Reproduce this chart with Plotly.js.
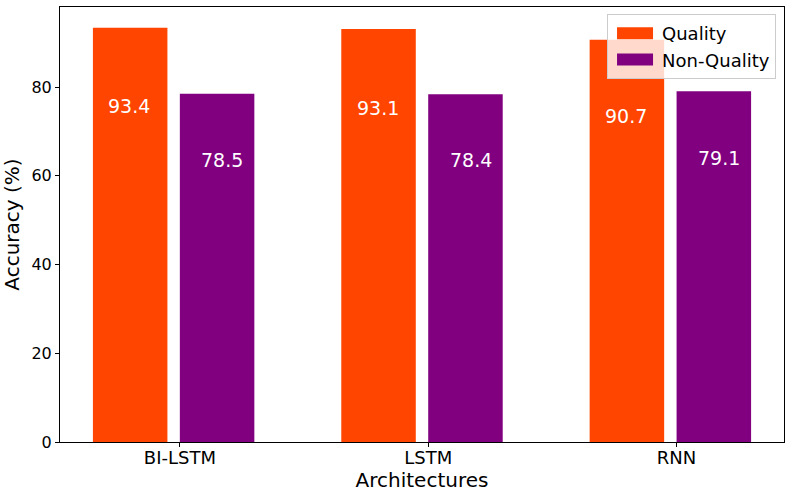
<!DOCTYPE html>
<html>
<head>
<meta charset="utf-8">
<script src="https://cdn.plot.ly/plotly-3.0.1.min.js"></script>
<style>html,body{margin:0;padding:0;background:#fff;}#chart{width:792px;height:497px;}</style>
</head>
<body>
<div id="chart"></div>
<script>
const categories = ["BI-LSTM", "LSTM", "RNN"];
const qualityValues = [93.4, 93.1, 90.7];
const nonQualityValues = [78.5, 78.4, 79.1];
const seriesNames = ["Quality", "Non-Quality"];
const yTickValues = [0, 20, 40, 60, 80];

const xPos = categories.map((c, i) => i);
const font = "DejaVu Sans, sans-serif";

const traces = [
  {
    type: "bar", name: seriesNames[0], x: xPos, y: qualityValues,
    offset: -0.35, width: 0.3, marker: {color: "#FF4500"},
    hoverinfo: "y"
  },
  {
    type: "bar", name: seriesNames[1], x: xPos, y: nonQualityValues,
    offset: 0, width: 0.3, marker: {color: "#800080"},
    hoverinfo: "y"
  }
];

const annotations = [];
qualityValues.forEach((v, i) => annotations.push({
  x: i - 0.296, y: v * 0.81, xref: "x", yref: "y", text: v.toFixed(1),
  showarrow: false, xanchor: "left", yanchor: "middle",
  font: {family: font, size: 19, color: "#ffffff"}
}));
nonQualityValues.forEach((v, i) => annotations.push({
  x: i + 0.078, y: v * 0.81, xref: "x", yref: "y", text: v.toFixed(1),
  showarrow: false, xanchor: "left", yanchor: "middle",
  font: {family: font, size: 19, color: "#ffffff"}
}));

const layout = {
  width: 792, height: 497,
  margin: {l: 60, r: 8, t: 7, b: 55},
  paper_bgcolor: "#fff", plot_bgcolor: "#fff",
  barmode: "overlay",
  font: {family: font, color: "#000"},
  showlegend: true,
  legend: {
    x: 0.989, xanchor: "right", y: 0.984, yanchor: "top",
    bgcolor: "rgba(255,255,255,0.8)", bordercolor: "#cccccc", borderwidth: 1,
    itemwidth: 44, traceorder: "normal",
    font: {family: font, size: 18, color: "#000"}
  },
  xaxis: {
    range: [-0.4825, 2.4325],
    tickvals: xPos, ticktext: categories,
    ticks: "outside", ticklen: 4, tickcolor: "#000", tickwidth: 1,
    ticklabelstandoff: -5,
    showline: true, linecolor: "#000", linewidth: 1, mirror: true,
    showgrid: false, zeroline: false,
    tickfont: {family: font, size: 18, color: "#000"},
    title: {text: "Architectures", font: {family: font, size: 20, color: "#000"}, standoff: 4}
  },
  yaxis: {
    range: [0, 98.07],
    tickvals: yTickValues,
    ticks: "outside", ticklen: 4, tickcolor: "#000", tickwidth: 1,
    showline: true, linecolor: "#000", linewidth: 1, mirror: true,
    showgrid: false, zeroline: false,
    tickfont: {family: font, size: 16, color: "#000"},
    title: {text: "Accuracy (%)", font: {family: font, size: 20, color: "#000"}, standoff: 6}
  },
  annotations: annotations
};

Plotly.newPlot("chart", traces, layout, {displayModeBar: false, staticPlot: true}).then(function () {
  document.querySelectorAll("#chart .legend .legendpoints path").forEach(function (p) {
    p.setAttribute("d", "M-18,6H18V-6H-18Z");
  });
});
</script>
</body>
</html>
